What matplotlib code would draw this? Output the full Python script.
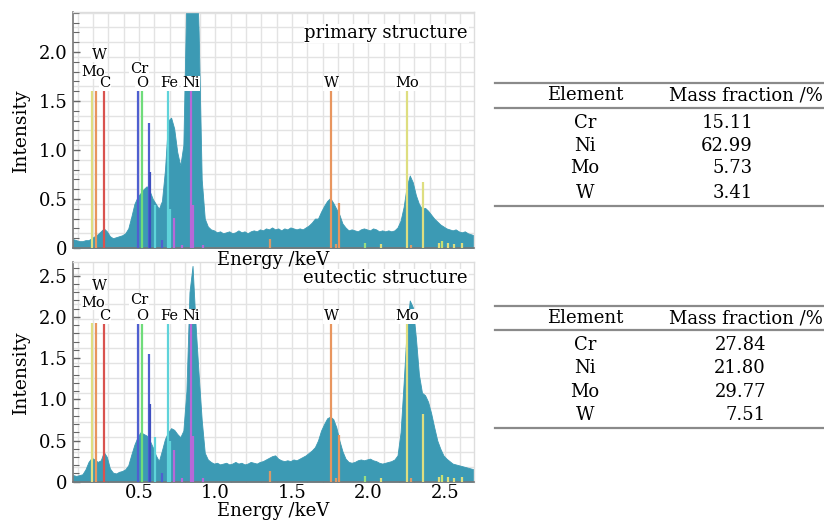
import numpy as np
import matplotlib
matplotlib.use("Agg")
import matplotlib.pyplot as plt
from matplotlib.lines import Line2D
from matplotlib.ticker import MultipleLocator, FuncFormatter

plt.rcParams['font.family'] = ['DejaVu Serif']

# ---------------- data ----------------
energy = np.round(np.arange(0.07, 2.695, 0.02), 2)  # keV sample grid (132 pts)

primary_counts = [
    0.09, 0.08, 0.07, 0.07, 0.08, 0.08, 0.10, 0.12, 0.14, 0.17,   # 0.07-0.25
    0.20, 0.17, 0.12, 0.10, 0.11, 0.12, 0.13, 0.15, 0.20, 0.32,   # 0.27-0.45
    0.45, 0.52, 0.56, 0.60, 0.63, 0.58, 0.50, 0.45, 0.40, 0.48,   # 0.47-0.65
    0.80, 1.30, 1.33, 1.22, 0.98, 0.84, 1.05, 2.60, 3.30, 3.50,   # 0.67-0.85
    3.20, 2.20, 0.70, 0.30, 0.22, 0.19, 0.18, 0.16, 0.17, 0.15,   # 0.87-1.05
    0.16, 0.17, 0.15, 0.16, 0.18, 0.16, 0.17, 0.15, 0.17, 0.18,   # 1.07-1.25
    0.17, 0.19, 0.18, 0.20, 0.19, 0.21, 0.19, 0.20, 0.18, 0.20,   # 1.27-1.45
    0.19, 0.21, 0.20, 0.19, 0.20, 0.19, 0.21, 0.23, 0.26, 0.30,   # 1.47-1.65
    0.30, 0.37, 0.43, 0.48, 0.51, 0.46, 0.40, 0.34, 0.25, 0.21,   # 1.67-1.85
    0.18, 0.19, 0.18, 0.17, 0.19, 0.20, 0.19, 0.18, 0.20, 0.19,   # 1.87-2.05
    0.17, 0.18, 0.17, 0.18, 0.17, 0.18, 0.21, 0.28, 0.42, 0.63,   # 2.07-2.25
    0.74, 0.67, 0.54, 0.45, 0.40, 0.41, 0.38, 0.34, 0.30, 0.27,   # 2.27-2.45
    0.24, 0.22, 0.20, 0.19, 0.18, 0.19, 0.17, 0.16, 0.17, 0.15,   # 2.47-2.65
    0.14, 0.13,                                                   # 2.67-2.69
]

eutectic_counts = [
    0.08, 0.07, 0.08, 0.09, 0.15, 0.24, 0.29, 0.27, 0.24, 0.26,   # 0.07-0.25
    0.36, 0.30, 0.16, 0.11, 0.10, 0.12, 0.13, 0.15, 0.20, 0.33,   # 0.27-0.45
    0.45, 0.54, 0.60, 0.58, 0.56, 0.50, 0.42, 0.32, 0.25, 0.38,   # 0.47-0.65
    0.52, 0.60, 0.65, 0.63, 0.58, 0.54, 0.62, 1.10, 2.30, 2.62,   # 0.67-0.85
    1.90, 1.30, 0.75, 0.35, 0.27, 0.24, 0.22, 0.23, 0.21, 0.22,   # 0.87-1.05
    0.23, 0.21, 0.22, 0.24, 0.22, 0.23, 0.21, 0.22, 0.24, 0.23,   # 1.07-1.25
    0.22, 0.24, 0.25, 0.27, 0.29, 0.31, 0.32, 0.28, 0.26, 0.25,   # 1.27-1.45
    0.26, 0.25, 0.27, 0.26, 0.28, 0.30, 0.32, 0.35, 0.38, 0.42,   # 1.47-1.65
    0.50, 0.62, 0.70, 0.77, 0.79, 0.76, 0.66, 0.50, 0.37, 0.28,   # 1.67-1.85
    0.24, 0.23, 0.24, 0.26, 0.27, 0.26, 0.27, 0.28, 0.26, 0.25,   # 1.87-2.05
    0.23, 0.22, 0.23, 0.24, 0.25, 0.27, 0.32, 0.60, 1.20, 1.85,   # 2.07-2.25
    2.20, 2.12, 1.75, 1.30, 1.08, 1.05, 0.97, 0.83, 0.66, 0.50,   # 2.27-2.45
    0.40, 0.32, 0.28, 0.25, 0.22, 0.21, 0.20, 0.19, 0.18, 0.17,   # 2.47-2.65
    0.16, 0.15,                                                   # 2.67-2.69
]

# element marker lines (labelled)
label_elements = ["Mo", "W", "C", "Cr", "O", "Fe", "Ni", "W", "Mo"]
label_energy = [0.191, 0.217, 0.271, 0.492, 0.518, 0.691, 0.838, 1.755, 2.252]
label_colors = ["#dede80", "#e8955e", "#d9534f", "#4f5fd0", "#6fdc7a",
                "#5fd3da", "#b868d8", "#e8955e", "#dede80"]
primary_label_height = [1.60] * 9
eutectic_label_height = [1.93] * 9
# label text positions (keV)
label_text_x = [0.200, 0.240, 0.275, 0.500, 0.518, 0.698, 0.838, 1.755, 2.252]

# secondary (unlabelled) marker lines
sec_energy = [0.563, 0.574, 0.605, 0.703, 0.729, 0.851, 0.648, 0.78, 0.92,
              1.356, 1.79, 1.807, 2.28, 2.358, 1.98, 2.08, 2.46, 2.48, 2.52,
              2.56, 2.61]
sec_colors = ["#4f5fd0", "#3f4fc0", "#5fd3da", "#5fd3da", "#b868d8", "#b868d8",
              "#4f5fd0", "#b868d8", "#b868d8", "#d99a6a", "#d99a6a", "#e8955e",
              "#d99a6a", "#dede80", "#9ade80", "#dede80", "#dede80", "#c8e070",
              "#dede80", "#dede80", "#dede80"]
primary_sec_height = [1.28, 0.78, 0.44, 0.40, 0.31, 0.44, 0.08, 0.03, 0.03,
                      0.09, 0.04, 0.46, 0.03, 0.67, 0.05, 0.04, 0.05, 0.07,
                      0.05, 0.04, 0.05]
eutectic_sec_height = [1.55, 0.94, 0.54, 0.49, 0.38, 0.55, 0.10, 0.04, 0.04,
                       0.13, 0.05, 0.57, 0.04, 0.82, 0.07, 0.05, 0.06, 0.08,
                       0.06, 0.05, 0.06]

table_elements = ["Cr", "Ni", "Mo", "W"]
primary_mass = ["15.11", "62.99", "5.73", "3.41"]
eutectic_mass = ["27.84", "21.80", "29.77", "7.51"]

# ---------------- figure ----------------
W, H = 824, 521
fig = plt.figure(figsize=(W / 100, H / 100), dpi=100)

def fx(px):
    return px / W

def fy(py):
    return 1 - py / H

SPEC = "#3c9ab4"

def make_panel(rect, counts, ymax, lab_h, sec_h, title, label_y, grid_step, show_xt):
    ax = fig.add_axes(rect)
    ax.set_xlim(0.0686, 2.69)
    ax.set_ylim(0, ymax)
    for gx in np.arange(0.1, 2.7, 0.1):
        ax.axvline(gx, color="#e3e3e3", lw=1.0, zorder=0)
    for gy in np.arange(grid_step, ymax, grid_step):
        ax.axhline(gy, color="#e3e3e3", lw=1.0, zorder=0)
    ax.fill_between(energy, 0, counts, color=SPEC, lw=0.6, edgecolor=SPEC, zorder=2)
    ax.vlines(sec_energy, 0, sec_h, colors=sec_colors, lw=1.6, zorder=3)
    ax.vlines(label_energy, 0, lab_h, colors=label_colors, lw=1.6, zorder=3)
    ly_main, ly_cr, ly_mo, ly_w = label_y
    ys = [ly_mo, ly_w, ly_main, ly_cr, ly_main, ly_main, ly_main, ly_main, ly_main]
    txt = dict(fontsize=10.5, ha="center", va="center", zorder=5,
               bbox=dict(fc="white", ec="none", pad=0.3))
    for name, xx, yy in zip(label_elements, label_text_x, ys):
        ax.text(xx, yy, name, **txt)
    ax.text(0.985, title[1], title[0], transform=ax.transAxes, ha="right",
            va="center", fontsize=13, zorder=5,
            bbox=dict(fc="white", ec="none", pad=0.5))
    ax.yaxis.set_major_locator(MultipleLocator(0.5))
    ax.yaxis.set_minor_locator(MultipleLocator(0.1))
    ax.xaxis.set_major_locator(MultipleLocator(0.5))
    ax.xaxis.set_minor_locator(MultipleLocator(0.1))
    ax.yaxis.set_major_formatter(FuncFormatter(lambda v, p: "0" if abs(v) < 1e-9 else f"{v:.1f}"))
    ax.tick_params(axis="both", which="both", direction="in", color="#666666",
                   labelsize=13, pad=4)
    ax.tick_params(axis="x", which="both", pad=2)
    ax.tick_params(which="major", length=5, width=1.0)
    ax.tick_params(which="minor", length=4, width=0.8)
    ax.tick_params(axis="x", which="both", top=False)
    ax.tick_params(axis="y", which="both", right=False)
    if not show_xt:
        ax.tick_params(axis="x", labelbottom=False)
    for s in ["left", "bottom"]:
        ax.spines[s].set_color("#777777")
        ax.spines[s].set_linewidth(1.2)
    for s in ["top", "right"]:
        ax.spines[s].set_color("#dddddd")
        ax.spines[s].set_linewidth(1.0)
    ax.set_ylabel("Intensity", fontsize=13.5, labelpad=6)
    ax.set_xlabel("Energy /keV", fontsize=13, labelpad=0)
    return ax

ax1 = make_panel([fx(73), fy(248), fx(474 - 73), (248 - 12) / H],
                 primary_counts, 2.408, primary_label_height, primary_sec_height,
                 ("primary structure", 0.91), (1.68, 1.83, 1.80, 1.97), 0.15, False)
ax1.xaxis.set_label_coords(0.5, -0.012)

ax2 = make_panel([fx(73), fy(481.7), fx(474 - 73), (481.7 - 262) / H],
                 eutectic_counts, 2.667, eutectic_label_height, eutectic_sec_height,
                 ("eutectic structure", 0.925), (2.01, 2.20, 2.17, 2.37), 0.18, True)
ax2.set_zorder(-1)

# ---------------- tables ----------------
RULE = "#8a8a8a"
TFS = 13

def table(y_top, y_head, y_mid, rows_y, y_bot, values, val_right):
    for yy in (y_top, y_mid, y_bot):
        fig.add_artist(Line2D([fx(495), fx(823)], [fy(yy), fy(yy)],
                              color=RULE, lw=1.6))
    fig.text(fx(585), fy(y_head), "Element", ha="center", va="center", fontsize=TFS)
    fig.text(fx(746), fy(y_head), "Mass fraction /%", ha="center", va="center", fontsize=TFS)
    for el, v, yy in zip(table_elements, values, rows_y):
        fig.text(fx(585), fy(yy), el, ha="center", va="center", fontsize=TFS)
        fig.text(fx(val_right), fy(yy), v, ha="right", va="center", fontsize=TFS)

table(82.7, 95, 107.7, [123.3, 146, 168.3, 192.7], 205.7, primary_mass, 753)
table(305.7, 318.3, 330, [345, 368.3, 391.7, 415], 427.7, eutectic_mass, 766)

fig.savefig("out.png", dpi=100)
